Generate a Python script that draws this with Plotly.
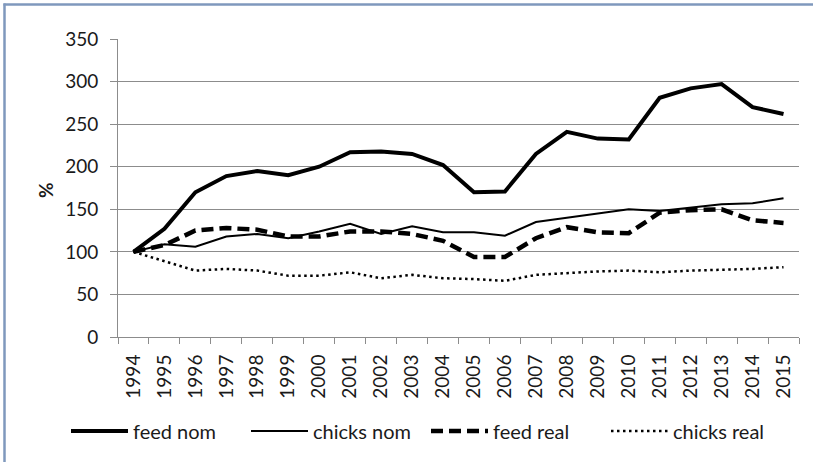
import plotly.graph_objects as go

years = [str(y) for y in range(1994, 2016)]
feed_nom = [100, 127, 170, 189, 195, 190, 200, 217, 218, 215, 202, 170, 171, 215, 241, 233, 232, 281, 292, 297, 270, 262]
chicks_nom = [100, 109, 106, 118, 121, 116, 124, 133, 121, 130, 123, 123, 119, 135, 140, 145, 150, 148, 152, 156, 157, 163]
feed_real = [100, 108, 125, 128, 126, 118, 118, 124, 124, 121, 113, 94, 94, 116, 129, 123, 122, 146, 149, 150, 137, 134]
chicks_real = [100, 89, 78, 80, 78, 72, 72, 76, 69, 73, 69, 68, 66, 73, 75, 77, 78, 76, 78, 79, 80, 82]
y_ticks = [0, 50, 100, 150, 200, 250, 300, 350]

FONT = "Lato"
TXT = "#1a1a1a"
GRID = "#8c8c8c"
BORDER = "#7f98bd"

fig = go.Figure()
fig.add_trace(go.Scatter(x=years, y=feed_nom, name="feed nom", mode="lines",
                         line=dict(color="black", width=4)))
fig.add_trace(go.Scatter(x=years, y=chicks_nom, name="chicks nom", mode="lines",
                         line=dict(color="black", width=2)))
fig.add_trace(go.Scatter(x=years, y=feed_real, name="feed real", mode="lines",
                         line=dict(color="black", width=4.5, dash="12px,6px")))
fig.add_trace(go.Scatter(x=years, y=chicks_real, name="chicks real", mode="lines",
                         line=dict(color="black", width=2.5, dash="2.5px,3.5px")))

L, R, T, B = 118, 14, 39, 125
W, H = 813, 462
pw = W - L - R
ph = H - T - B

def px_x(p):
    return (p - L) / pw

def px_y(p):
    return (H - B - p) / ph

fig.update_layout(
    width=W, height=H,
    margin=dict(l=L, r=R, t=T, b=B, autoexpand=False),
    paper_bgcolor="white", plot_bgcolor="white",
    font=dict(family=FONT, size=19, color=TXT),
    showlegend=True,
    legend=dict(orientation="h", x=px_x(66), y=px_y(431), xanchor="left", yanchor="middle",
                font=dict(family=FONT, size=20, color=TXT), itemwidth=57, entrywidth=108,
                bgcolor="rgba(0,0,0,0)", tracegroupgap=0),
    xaxis=dict(type="category", range=[-0.5, 21.5], showgrid=False, automargin=False,
               showline=True, linecolor=GRID, linewidth=1,
               ticks="outside", tickson="boundaries", ticklen=6, tickcolor=GRID,
               tickangle=-90, tickfont=dict(family=FONT, size=19, color=TXT),
               ticklabelstandoff=9),
    yaxis=dict(range=[0, 350], tickvals=y_ticks, showgrid=True, gridcolor=GRID, gridwidth=1,
               showline=True, linecolor=GRID, linewidth=1, zeroline=False, automargin=False,
               ticks="outside", ticklen=7, tickcolor=GRID,
               tickfont=dict(family=FONT, size=19, color=TXT), ticklabelstandoff=8),
    shapes=[
        dict(type="line", xref="paper", yref="paper",
             x0=px_x(3.5), x1=px_x(W), y0=px_y(4.5), y1=px_y(4.5),
             line=dict(color=BORDER, width=2.5), layer="below"),
        dict(type="line", xref="paper", yref="paper",
             x0=px_x(4.5), x1=px_x(4.5), y0=px_y(3.5), y1=px_y(H),
             line=dict(color=BORDER, width=2.5), layer="below"),
    ],
    annotations=[dict(text="%", xref="paper", yref="paper", x=px_x(45), y=px_y(190),
                      xanchor="center", yanchor="middle",
                      showarrow=False, textangle=-90,
                      font=dict(family=FONT, size=19, color=TXT, weight="bold"))],
)

fig.write_html("out.html", config={"displayModeBar": False},
               post_script="document.body.style.margin='0';document.body.style.overflow='hidden';"
                           "document.documentElement.style.overflow='hidden';")
